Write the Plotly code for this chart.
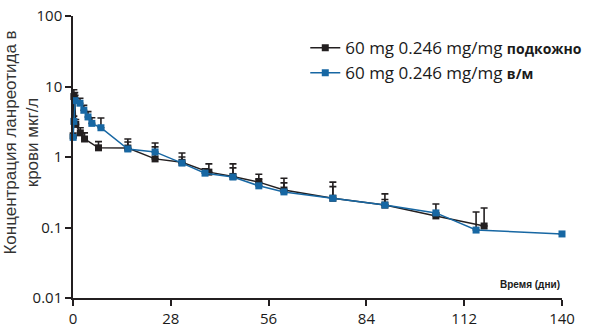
import plotly.graph_objects as go

# Data
sc_days  = [0.04, 0.25, 0.5, 0.8, 2.1, 3.3, 7.3, 15.7, 23.5, 31.2, 38.9, 45.8, 53.2, 60.4, 74.4, 89.3, 103.9, 117.7]
sc_vals  = [2.0, 7.2, 6.5, 2.9, 2.2, 1.8, 1.35, 1.34, 0.94, 0.84, 0.61, 0.53, 0.44, 0.34, 0.26, 0.208, 0.146, 0.105]
sc_upper = [2.0, 9.0, 8.2, 3.4, 2.6, 2.2, 1.65, 1.80, 1.58, 1.14, 0.80, 0.80, 0.57, 0.50, 0.44, 0.30, 0.215, 0.189]

im_days  = [0.04, 0.25, 0.6, 2.0, 3.1, 4.3, 5.4, 8.0, 15.7, 23.5, 31.2, 37.8, 45.8, 53.2, 60.4, 74.4, 89.3, 103.9, 115.4, 140.0]
im_vals  = [1.9, 3.2, 6.3, 5.8, 4.6, 3.7, 3.0, 2.6, 1.30, 1.18, 0.82, 0.59, 0.52, 0.39, 0.32, 0.26, 0.208, 0.161, 0.092, 0.081]
im_upper = [1.9, 3.8, 7.5, 6.8, 5.4, 4.4, 3.6, 3.57, 1.63, 1.39, 1.0, 0.68, 0.70, 0.49, 0.43, 0.38, 0.25, 0.161, 0.166, 0.081]

x_ticks = [0, 28, 56, 84, 112, 140]
y_ticks = [0.01, 0.1, 1, 10, 100]
y_ticklabels = ["0.01", "0.1", "1", "10", "100"]

BLACK = "#231f20"
BLUE = "#1767a3"
FONT = "Open Sans, Liberation Sans, sans-serif"

fig = go.Figure()

def add_series(days, vals, upper, color, name):
    fig.add_trace(go.Scatter(
        x=days, y=vals, mode="lines+markers", name=name,
        line=dict(color=color, width=1.5),
        marker=dict(symbol="square", size=7, color=color),
        error_y=dict(type="data", symmetric=False,
                     array=[u - v for u, v in zip(upper, vals)],
                     arrayminus=[0] * len(vals),
                     color=BLACK, thickness=1.6, width=3.5),
        cliponaxis=False,
    ))

add_series(sc_days, sc_vals, sc_upper, BLACK,
           "60 mg 0.246 mg/mg <b><span style='font-size:14px'>подкожно</span></b>")
add_series(im_days, im_vals, im_upper, BLUE,
           "60 mg 0.246 mg/mg <b><span style='font-size:14px'>в/м</span></b>")

fig.update_layout(
    width=600, height=330,
    margin=dict(l=73, r=38, t=16, b=32),
    paper_bgcolor="white", plot_bgcolor="white",
    font=dict(family=FONT, color="#1a1a1a"),
    showlegend=True,
    legend=dict(x=0.475, y=0.95, xanchor="left", yanchor="top",
                font=dict(size=17, family=FONT, color="#1a1a1a"),
                bgcolor="rgba(0,0,0,0)", itemwidth=30, tracegroupgap=2),
    xaxis=dict(range=[0, 140], tickvals=x_ticks, ticks="outside", ticklen=6,
               tickwidth=1.5, tickcolor=BLACK, showline=True, linecolor=BLACK,
               linewidth=1.5, showgrid=False, zeroline=False, automargin=False,
               tickfont=dict(size=15, family=FONT, color="#1a1a1a")),
    yaxis=dict(type="log", range=[-2, 2], tickvals=y_ticks, ticktext=y_ticklabels,
               ticks="outside", ticklen=6, tickwidth=1.5, tickcolor=BLACK,
               showline=True, linecolor=BLACK, linewidth=1.5, showgrid=False,
               zeroline=False, automargin=False,
               tickfont=dict(size=15, family=FONT, color="#1a1a1a")),
    annotations=[
        dict(text="Концентрация ланреотида в<br>крови мкг/л", xref="paper", yref="paper",
             x=-0.105, y=0.55, xanchor="center", yanchor="middle", textangle=-90,
             showarrow=False, font=dict(size=17, family="Liberation Sans, Arial, sans-serif", color="#333333")),
        dict(text="<b>Время (дни)</b>", xref="paper", yref="paper",
             x=1.0, y=0.02, xanchor="right", yanchor="bottom",
             showarrow=False, font=dict(size=10, family="Liberation Sans, Arial, sans-serif", color="#1a1a1a")),
    ],
)

fig.write_html("out.html")
